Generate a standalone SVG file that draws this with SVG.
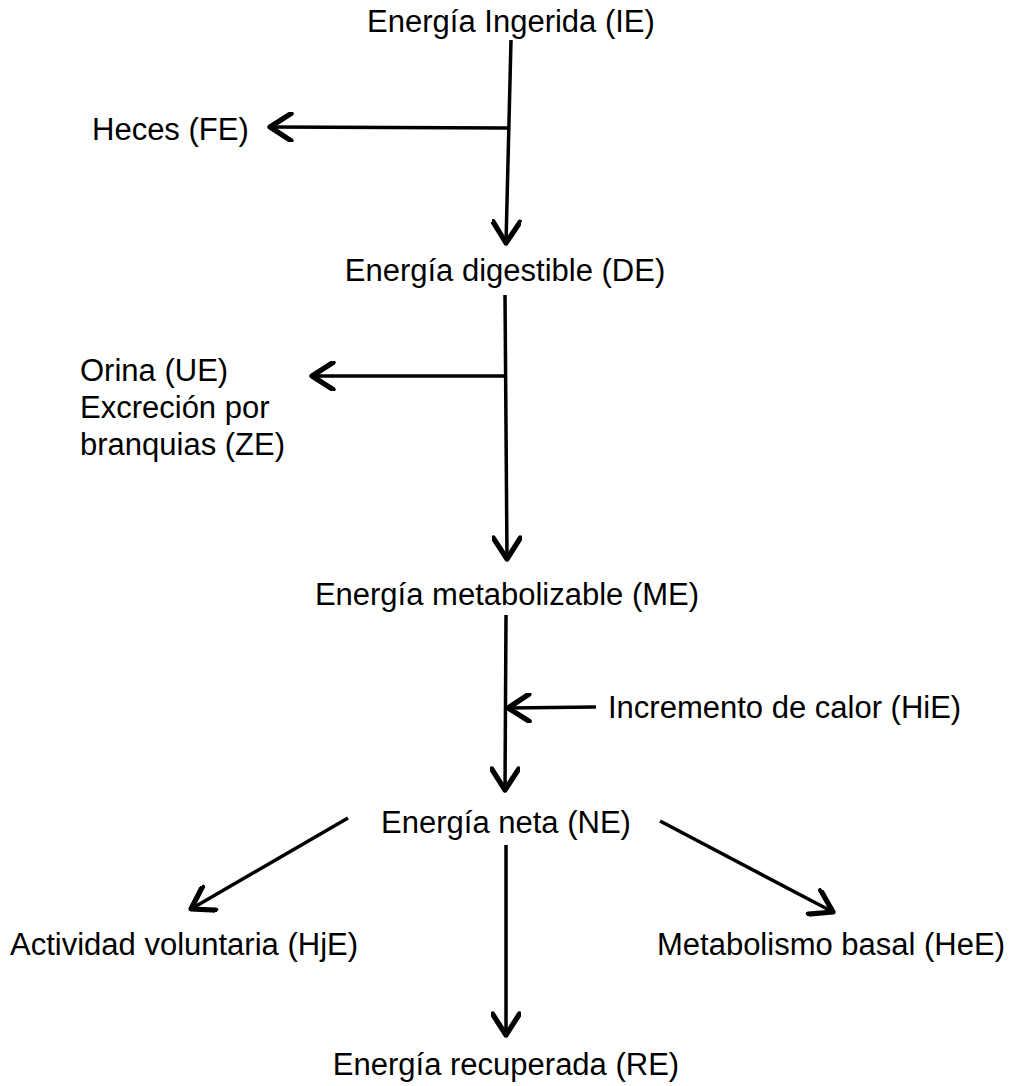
<svg xmlns="http://www.w3.org/2000/svg" width="1014" height="1086" viewBox="0 0 1014 1086">
<style>
text{font-family:"Liberation Sans",Arial,sans-serif;font-size:31px;fill:#000}
.c{fill:none;stroke:#000;stroke-width:3.5}
</style>
<defs>
<marker id="ah" markerUnits="userSpaceOnUse" markerWidth="30" markerHeight="30" refX="16" refY="10" orient="auto" viewBox="0 0 20 20">
<path d="M2,1 L16,10 L2,19" fill="none" stroke="#000" stroke-width="3.5" stroke-linecap="round" stroke-linejoin="round"/>
</marker>
</defs>
<rect width="1014" height="1086" fill="#fff"/>
<g id="connectors">
<path class="c" d="M511,40 L506,243" marker-end="url(#ah)"/>
<path class="c" d="M508,128 L270,127" marker-end="url(#ah)"/>
<path class="c" d="M505,295 L507,559" marker-end="url(#ah)"/>
<path class="c" d="M506,376 L312,376" marker-end="url(#ah)"/>
<path class="c" d="M506,615 L505,790" marker-end="url(#ah)"/>
<path class="c" d="M596,707 L508,708" marker-end="url(#ah)"/>
<path class="c" d="M348,818 L191,909" marker-end="url(#ah)"/>
<path class="c" d="M660,821 L833,912" marker-end="url(#ah)"/>
<path class="c" d="M506,845 L506,1035" marker-end="url(#ah)"/>
</g>
<g id="ie"><text x="511" y="32" text-anchor="middle">Energía Ingerida (IE)</text></g>
<g id="fe"><text x="92" y="140">Heces (FE)</text></g>
<g id="de"><text x="505" y="281" text-anchor="middle">Energía digestible (DE)</text></g>
<g id="ue"><text x="80" y="381">Orina (UE)</text><text x="80" y="418">Excreción por</text><text x="80" y="455">branquias (ZE)</text></g>
<g id="me"><text x="507" y="605" text-anchor="middle">Energía metabolizable (ME)</text></g>
<g id="hie"><text x="608" y="718">Incremento de calor (HiE)</text></g>
<g id="ne"><text x="506" y="833" text-anchor="middle">Energía neta (NE)</text></g>
<g id="hje"><text x="10" y="955">Actividad voluntaria (HjE)</text></g>
<g id="hee"><text x="1005" y="955" text-anchor="end">Metabolismo basal (HeE)</text></g>
<g id="re"><text x="506" y="1075" text-anchor="middle">Energía recuperada (RE)</text></g>
</svg>
